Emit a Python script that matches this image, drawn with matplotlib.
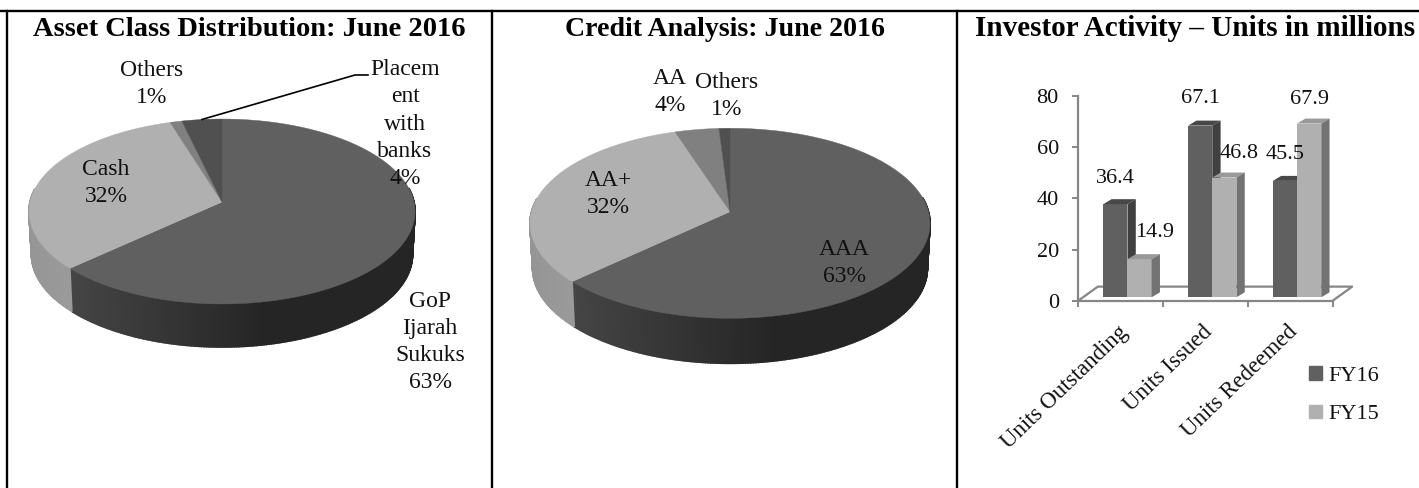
#fund report charts: two perspective pies and a 3d style bar chart
import matplotlib
matplotlib.use("Agg")
import matplotlib.pyplot as plt
from matplotlib.patches import Patch
import numpy as np

plt.rcParams['font.family'] = ['Liberation Serif', 'DejaVu Serif']

# Asset class pie
asset_labels = ["GoP\nIjarah\nSukuks", "Cash", "Others", "Placem\nent\nwith\nbanks"]
asset_values = [63.2, 32.0, 1.1, 3.7]

# Credit pie
credit_labels = ["AAA", "AA+", "AA", "Others"]
credit_values = [63.0, 32.0, 4.0, 1.0]

# Investor activity bars
categories = ["Units Outstanding", "Units Issued", "Units Redeemed"]
fy16 = [36.4, 67.1, 45.5]
fy15 = [14.9, 46.8, 67.9]

WIDTH, HEIGHT = 1419, 488
FONT = 17
NUM_FONT = 16
TOP_COLORS = ["#606060", "#b0b0b0", "#808080", "#505050"]


def project(theta, cx, cy, a, b, k, drop=0.0, shrink=1.0):
    # circle to picture through a simple perspective, theta clockwise from 12 o'clock
    x = np.sin(theta)
    y = np.cos(theta)
    w = 1 + k * y
    return cx + shrink * a * x / w, cy - b * y / w + drop


def side_color(slice_idx, frac):
    # frac is 0 at left of the pie and 1 at right
    if slice_idx == 0:
        g = 0x25 + (0x4c - 0x25) * max(0.0, 1 - frac / 0.62)
    else:
        g = 0x96 + 10 * frac / 0.2
    g = int(g)
    return "#%02x%02x%02x" % (g, g, g)


def draw_pie(ax, values, colors, cx, cy, a, b, k, depth):
    edges = np.cumsum([0] + list(values)) / sum(values) * 2 * np.pi
    # side wall first
    for i in range(len(values)):
        steps = np.arange(edges[i], edges[i + 1], 0.012)
        steps = np.append(steps, edges[i + 1])
        for t0, t1 in zip(steps[:-1], steps[1:]):
            if np.cos((t0 + t1) / 2) > 0.15:
                continue
            ts = np.array([t0, t1])
            x0, y0 = project(ts, cx, cy, a, b, k)
            x1, y1 = project(ts[::-1], cx, cy, a, b, k, depth, 0.987)
            frac = (x0[0] - (cx - a)) / (2 * a)
            c = side_color(i, frac)
            ax.fill(np.r_[x0, x1], np.r_[y0, y1], color=c, lw=1.2)
    # top face
    for i in range(len(values)):
        ts = np.linspace(edges[i], edges[i + 1], 200)
        x, y = project(ts, cx, cy, a, b, k)
        ax.fill(np.r_[cx, x], np.r_[cy, y], color=colors[i], lw=0.3)
    return edges


def slice_label(ax, x, y, name, value):
    text = name + "\n" + "%d%%" % round(value)
    ax.text(x, y, text, ha="center", va="center", fontsize=FONT, color="#111111",
            linespacing=1.38)


fig = plt.figure(figsize=(WIDTH / 100, HEIGHT / 100), dpi=100)

page = fig.add_axes([0, 0, 1, 1])
page.set_xlim(0, WIDTH)
page.set_ylim(HEIGHT, 0)
page.axis("off")

# frame of the table
page.plot([0, WIDTH], [11.2, 11.2], color="black", lw=1.7)
for x in [7, 492, 957]:
    page.plot([x, x], [11, HEIGHT], color="black", lw=1.7)

page.text(249, 36, "Asset Class Distribution: June 2016", ha="center", va="baseline",
          fontsize=20.5, fontweight="bold")
page.text(725, 36, "Credit Analysis: June 2016", ha="center", va="baseline",
          fontsize=20.1, fontweight="bold")
page.text(1195, 36, "Investor Activity \u2013 Units in millions", ha="center", va="baseline",
          fontsize=21, fontweight="bold")

# left pie
edges = draw_pie(page, asset_values, TOP_COLORS, 222, 202, 192, 91.5, 0.1027, 43)
mid = (edges[3] + edges[4]) / 2
lx, ly = project(mid, 222, 202, 192, 91.5, 0.1027)
page.plot([lx, 355, 368], [ly, 75, 75], color="black", lw=1.2)
slice_label(page, 430, 342, asset_labels[0], asset_values[0])
slice_label(page, 106, 183, asset_labels[1], asset_values[1])
slice_label(page, 152, 84, asset_labels[2], asset_values[2])
slice_label(page, 405, 124, asset_labels[3], asset_values[3])

# middle pie
draw_pie(page, credit_values, TOP_COLORS, 730, 211.7, 198.5, 93.6, 0.122, 45)
slice_label(page, 844, 263, credit_labels[0], credit_values[0])
slice_label(page, 608, 194, credit_labels[1], credit_values[1])
slice_label(page, 670, 92, credit_labels[2], credit_values[2])
slice_label(page, 727, 96, credit_labels[3], credit_values[3])

# bar chart
left, right, bottom, top = 1078.3, 1332.7, 300.7, 96
ax = fig.add_axes([left / WIDTH, 1 - bottom / HEIGHT, (right - left) / WIDTH, (bottom - top) / HEIGHT])
ax.patch.set_visible(False)
ax.set_xlim(0, 3)
ax.set_ylim(0, 80)
for s in ["top", "right"]:
    ax.spines[s].set_visible(False)
for s in ["left", "bottom"]:
    ax.spines[s].set_color("#868686")
    ax.spines[s].set_linewidth(1.6)

centers = np.arange(len(categories)) + 0.5
ax.set_yticks([0, 20, 40, 60, 80])
ax.tick_params(axis="y", length=4, width=1.4, color="#868686", labelsize=NUM_FONT, pad=10, labelcolor="#111111")
ax.set_xticks(centers - 0.04, categories, rotation=44, ha="right", rotation_mode="anchor", fontsize=16.5, color="#111111")
ax.tick_params(axis="x", which="major", length=0, pad=15)
ax.set_xticks(np.arange(len(categories) + 1), minor=True)
ax.tick_params(axis="x", which="minor", length=4, width=1.4, color="#868686")

# floor
floor_dx, floor_dy = 0.23, 5.5
ax.plot([0, floor_dx, 3 + floor_dx, 3], [0, floor_dy, floor_dy, 0], color="#868686", lw=1.6, clip_on=False)

bar_w = 0.285
gap = 0.295
base = 1.33
dep_x, dep_y = 0.098, 1.95
series = [(fy16, "#606060", "#484848", "#404040"), (fy15, "#b0b0b0", "#999999", "#737373")]
label_dx = [[0, 15], [0, 15], [0, 0]]
label_dy = [[26, 27], [27, 24], [26, 24]]
for s, (vals, front, lid, wall) in enumerate(series):
    for i, v in enumerate(vals):
        x0 = i + gap + s * bar_w
        x1 = x0 + bar_w
        y1 = base + v
        ax.bar(x0, v, width=bar_w, bottom=base, align="edge", color=front, zorder=3 + s)
        ax.fill([x0, x0 + dep_x, x1 + dep_x, x1], [y1, y1 + dep_y, y1 + dep_y, y1], color=lid, lw=0, zorder=3 + s)
        ax.fill([x1, x1 + dep_x, x1 + dep_x, x1], [base, base + dep_y, y1 + dep_y, y1], color=wall, lw=0, zorder=3 + s)
        ax.annotate("%.1f" % v, (x0 + bar_w / 2, y1), xytext=(label_dx[i][s], label_dy[i][s]),
                    textcoords="offset pixels", ha="center", va="center", fontsize=NUM_FONT,
                    color="#111111", zorder=6)

handles = [Patch(color="#606060", label="FY16"), Patch(color="#b0b0b0", label="FY15")]
fig.legend(handles=handles, loc="upper left", bbox_to_anchor=(1289 / WIDTH, 1 - 346 / HEIGHT),
           frameon=False, fontsize=NUM_FONT, handlelength=0.58, handleheight=0.58, handletextpad=0.27,
           labelspacing=0.85, labelcolor="#111111")

fig.savefig("out.png", dpi=100)
